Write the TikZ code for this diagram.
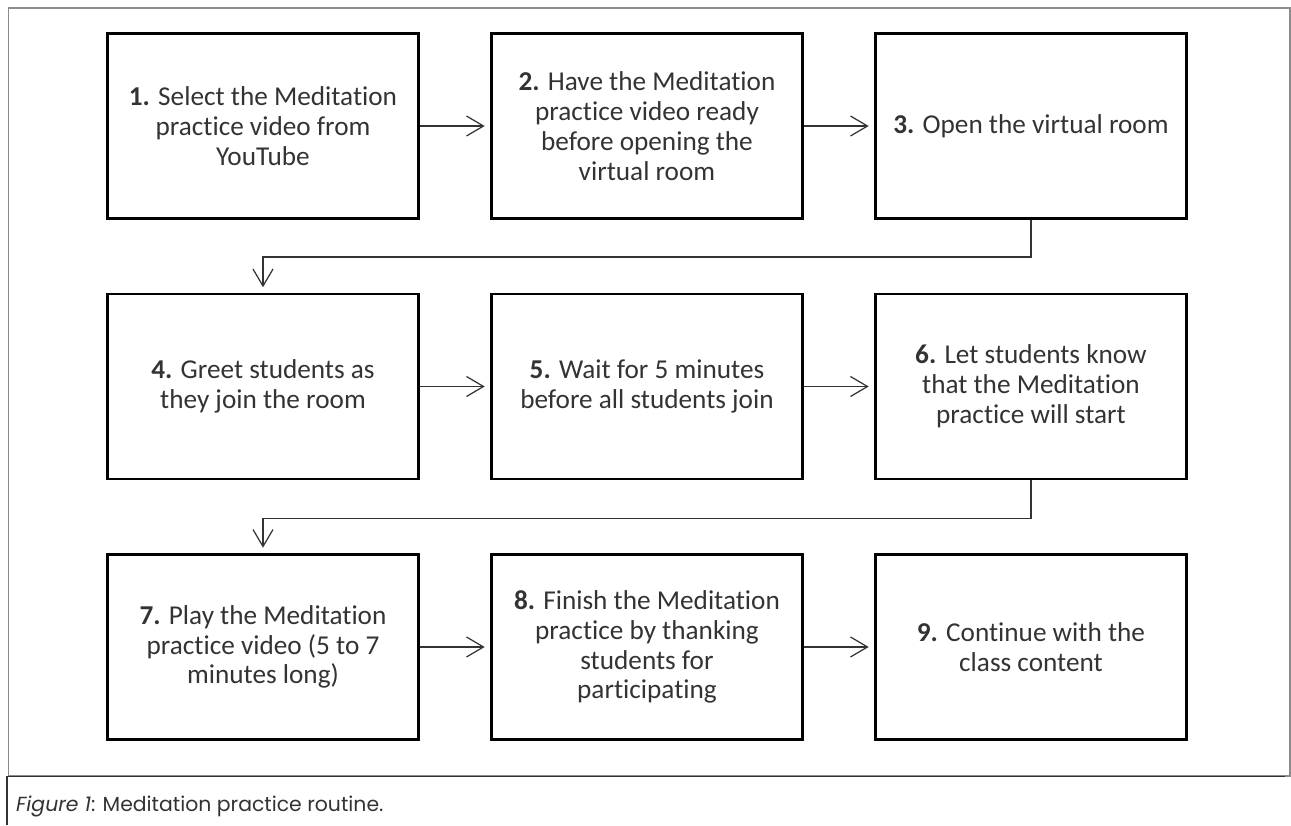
\documentclass[tikz,border=0pt]{standalone}
\usepackage{fontspec}
\setmainfont{Carlito}[Ligatures=NoCommon]
\newfontfamily\capfont{Poppins}
\usetikzlibrary{arrows.meta,positioning}

\begin{document}
\begin{tikzpicture}[>={Straight Barb[length=3.4mm,width=4mm]},shorten >=3pt,
    node distance=1.45cm and 1.4cm,
    stepbox/.style={draw,line width=1.7pt,minimum width=6.22cm,minimum height=3.7cm,
      align=center,text=black!80,font=\fontsize{15.5}{17}\selectfont},
    link/.style={->,black!80,line width=0.7pt}]
    \useasboundingbox (0,0) rectangle (25.82,-16.5);
    % frame and caption
    \draw[black!45,line width=1pt] (0.17,-0.16) rectangle (25.8,-15.52);
    \draw[black!80,line width=0.6pt] (0.14,-16.5) |- (25.8,-15.53);
    \node[anchor=west,text=black!80,font=\capfont\fontsize{11.6}{13}\selectfont] (cap) at (0.2,-16.12)
      {\textit{Figure 1}: Meditation practice routine.};

    \node[stepbox] (s1) at (5.26,-2.52) {\textbf{1.} Select the Meditation\\practice video from\\YouTube};
    \node[stepbox] (s2) [right=of s1] {\textbf{2.} Have the Meditation\\practice video ready\\before opening the\\virtual room};
    \node[stepbox] (s3) [right=of s2] {\textbf{3.} Open the virtual room};
    \node[stepbox] (s4) [below=of s1] {\textbf{4.} Greet students as\\they join the room};
    \node[stepbox] (s5) [right=of s4] {\textbf{5.} Wait for 5 minutes\\before all students join};
    \node[stepbox] (s6) [right=of s5] {\textbf{6.} Let students know\\that the Meditation\\practice will start};
    \node[stepbox] (s7) [below=of s4] {\textbf{7.} Play the Meditation\\practice video (5 to 7\\minutes long)};
    \node[stepbox] (s8) [right=of s7] {\textbf{8.} Finish the Meditation\\practice by thanking\\students for\\participating};
    \node[stepbox] (s9) [right=of s8] {\textbf{9.} Continue with the\\class content};

    \path[link]
    (s1) edge (s2)
    (s2) edge (s3)
    (s4) edge (s5)
    (s5) edge (s6)
    (s7) edge (s8)
    (s8) edge (s9)
    ;
    \draw[link] (s3.south) -- ++(0,-0.74) -| (s4.north);
    \draw[link] (s6.south) -- ++(0,-0.76) -| (s7.north);
  \end{tikzpicture}
\end{document}
